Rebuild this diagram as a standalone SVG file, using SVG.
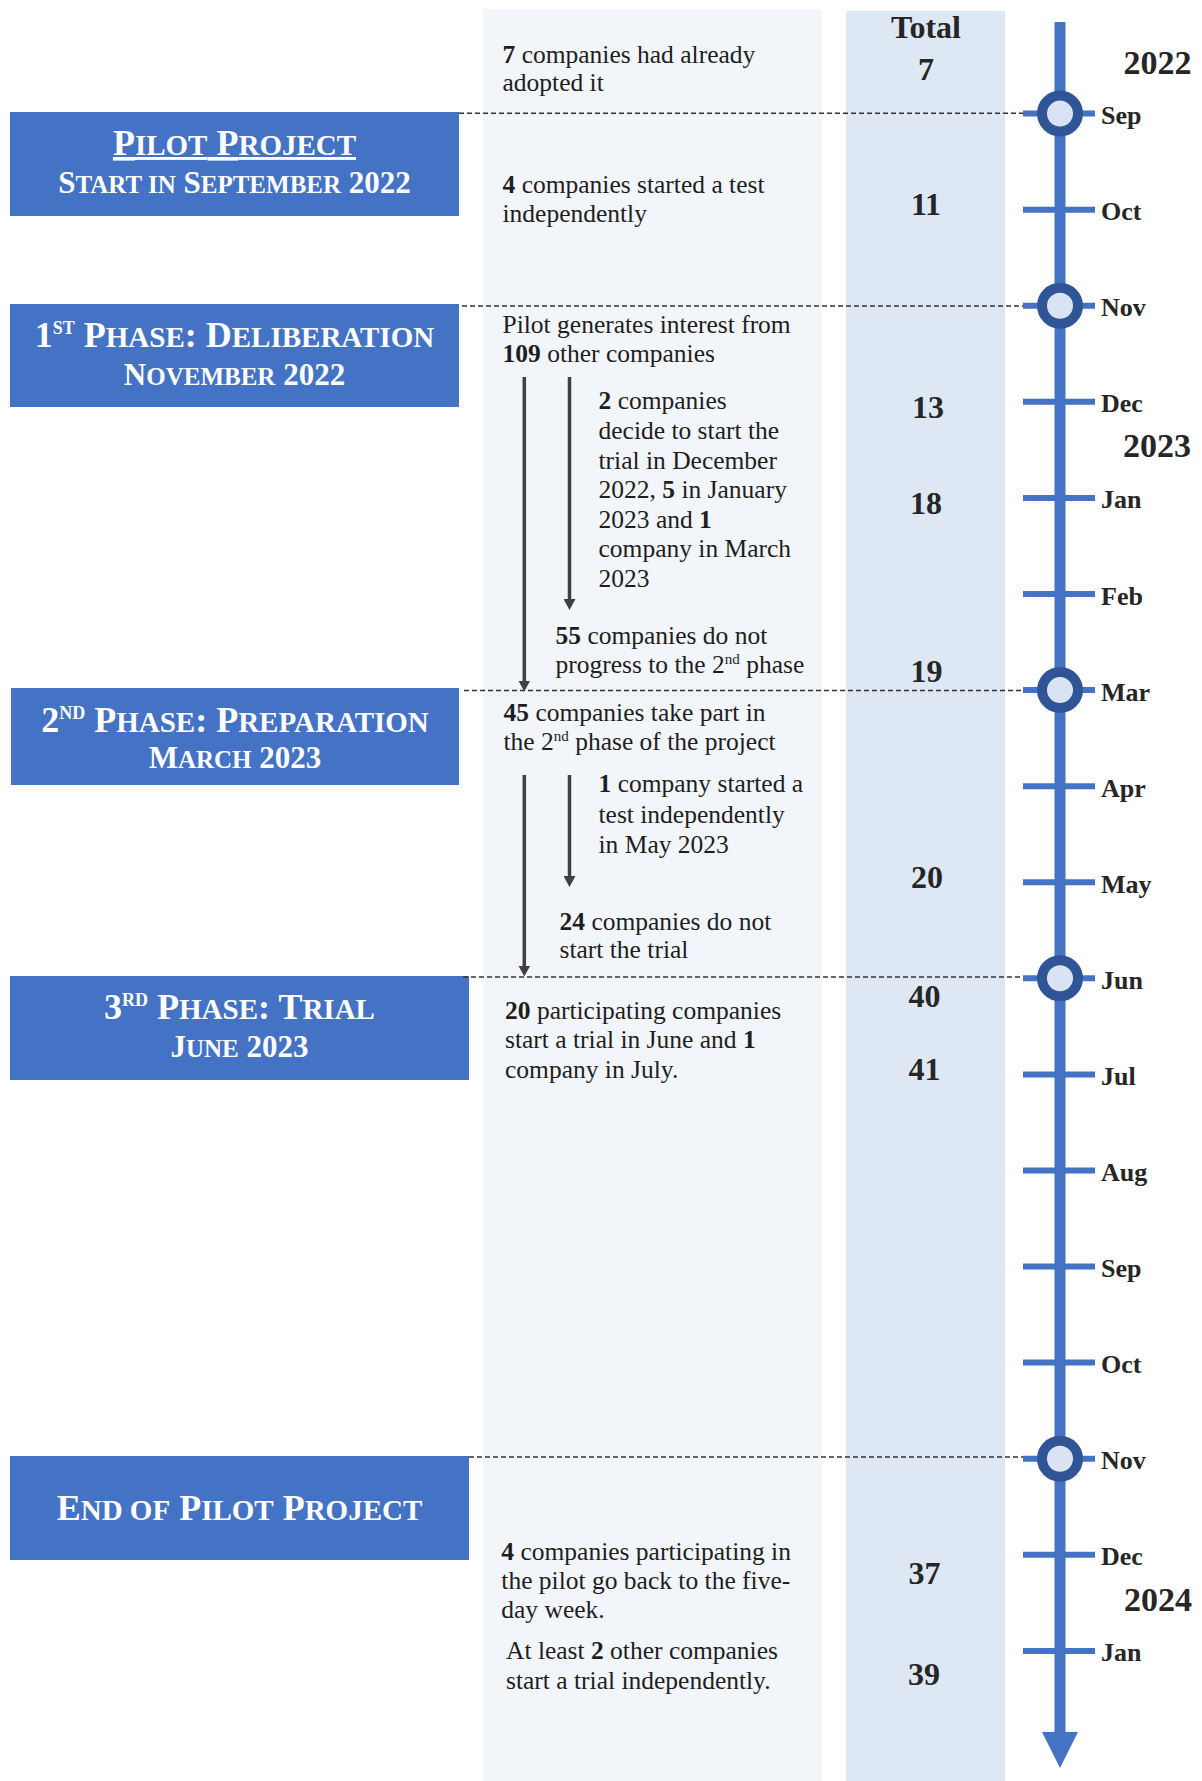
<svg xmlns="http://www.w3.org/2000/svg" width="1202" height="1781" viewBox="0 0 1202 1781">
<defs>
<style>
.bg1{fill:#F2F5FA}
.bg2{fill:#DEE8F4}
.body{font-family:"Liberation Serif","Times New Roman",serif;font-size:25.5px;fill:#1e1e1e}
.b{font-weight:bold}
.box{fill:#4472C4}
.bt{font-family:"Liberation Serif","Times New Roman",serif;font-weight:bold;fill:#ffffff;text-anchor:middle}
.num{font-family:"Liberation Serif","Times New Roman",serif;font-weight:bold;font-size:32px;fill:#262626;text-anchor:middle}
.mon{font-family:"Liberation Serif","Times New Roman",serif;font-weight:bold;font-size:26px;fill:#262626}
.yr{font-family:"Liberation Serif","Times New Roman",serif;font-weight:bold;font-size:34px;fill:#262626}
.dash{stroke:#333333;stroke-width:1.5;stroke-dasharray:5 3;fill:none}
.arr{stroke:#404040;stroke-width:3.5;fill:none;marker-end:url(#ah)}
.tick{stroke:#4472C4;stroke-width:6}
.ring{fill:#DAE3F3;stroke:#2F5597;stroke-width:10}
</style>
<marker id="ah" viewBox="0 0 11 12" markerUnits="userSpaceOnUse" markerWidth="11" markerHeight="12" refX="0.5" refY="6" orient="auto">
<path d="M0,0 L11,6 L0,12 Z" fill="#404040"/>
</marker>
</defs>
<rect width="1202" height="1781" fill="#ffffff"/>

<g id="columns">
<rect class="bg1" x="483" y="9" width="339" height="1772"/>
<rect class="bg2" x="846" y="11" width="159" height="1770"/>
</g>

<g id="timeline">
<line x1="1060" y1="22" x2="1060" y2="1734" stroke="#4472C4" stroke-width="11"/>
<polygon points="1042,1732 1078,1732 1060,1768" fill="#4472C4"/>
<line class="tick" x1="1023" y1="113.6" x2="1095" y2="113.6"/>
<line class="tick" x1="1023" y1="209.7" x2="1095" y2="209.7"/>
<line class="tick" x1="1023" y1="305.8" x2="1095" y2="305.8"/>
<line class="tick" x1="1023" y1="401.8" x2="1095" y2="401.8"/>
<line class="tick" x1="1023" y1="497.9" x2="1095" y2="497.9"/>
<line class="tick" x1="1023" y1="594" x2="1095" y2="594"/>
<line class="tick" x1="1023" y1="690.1" x2="1095" y2="690.1"/>
<line class="tick" x1="1023" y1="786.2" x2="1095" y2="786.2"/>
<line class="tick" x1="1023" y1="882.2" x2="1095" y2="882.2"/>
<line class="tick" x1="1023" y1="978.3" x2="1095" y2="978.3"/>
<line class="tick" x1="1023" y1="1074.4" x2="1095" y2="1074.4"/>
<line class="tick" x1="1023" y1="1170.5" x2="1095" y2="1170.5"/>
<line class="tick" x1="1023" y1="1266.6" x2="1095" y2="1266.6"/>
<line class="tick" x1="1023" y1="1362.6" x2="1095" y2="1362.6"/>
<line class="tick" x1="1023" y1="1458.7" x2="1095" y2="1458.7"/>
<line class="tick" x1="1023" y1="1554.8" x2="1095" y2="1554.8"/>
<line class="tick" x1="1023" y1="1650.9" x2="1095" y2="1650.9"/>
<circle class="ring" cx="1060" cy="113.6" r="18"/>
<circle class="ring" cx="1060" cy="305.8" r="18"/>
<circle class="ring" cx="1060" cy="690.1" r="18"/>
<circle class="ring" cx="1060" cy="978.3" r="18"/>
<circle class="ring" cx="1060" cy="1458.7" r="18"/>
<text class="mon" x="1101" y="124">Sep</text>
<text class="mon" x="1101" y="220.2">Oct</text>
<text class="mon" x="1101" y="316.3">Nov</text>
<text class="mon" x="1101" y="412.3">Dec</text>
<text class="mon" x="1101" y="508.4">Jan</text>
<text class="mon" x="1101" y="604.5">Feb</text>
<text class="mon" x="1101" y="700.6">Mar</text>
<text class="mon" x="1101" y="796.7">Apr</text>
<text class="mon" x="1101" y="892.7">May</text>
<text class="mon" x="1101" y="988.8">Jun</text>
<text class="mon" x="1101" y="1084.9">Jul</text>
<text class="mon" x="1101" y="1181">Aug</text>
<text class="mon" x="1101" y="1277.1">Sep</text>
<text class="mon" x="1101" y="1373.1">Oct</text>
<text class="mon" x="1101" y="1469.2">Nov</text>
<text class="mon" x="1101" y="1565.3">Dec</text>
<text class="mon" x="1101" y="1661.4">Jan</text>
<text class="yr" x="1123.5" y="74">2022</text>
<text class="yr" x="1123" y="457">2023</text>
<text class="yr" x="1124" y="1611">2024</text>
</g>

<g id="totals">
<text class="num" x="926" y="38" font-size="28">Total</text>
<text class="num" x="926" y="80">7</text>
<text class="num" x="926" y="215">11</text>
<text class="num" x="928" y="418">13</text>
<text class="num" x="926" y="514">18</text>
<text class="num" x="926.4" y="682">19</text>
<text class="num" x="927" y="888">20</text>
<text class="num" x="924.5" y="1007">40</text>
<text class="num" x="924.5" y="1080">41</text>
<text class="num" x="924.5" y="1584">37</text>
<text class="num" x="924" y="1685">39</text>
</g>

<g id="pilot-project">
<rect class="box" x="10" y="112" width="449" height="104"/>
<text class="bt" x="234.5" y="155" font-size="36" text-decoration="underline">P<tspan font-size="29">ILOT</tspan> P<tspan font-size="29">ROJECT</tspan></text>
<text class="bt" x="234.5" y="192.7" font-size="31">S<tspan font-size="25">TART IN</tspan> S<tspan font-size="25">EPTEMBER</tspan> 2022</text>
</g>

<g id="phase-1">
<rect class="box" x="10" y="304" width="449" height="103"/>
<text class="bt" x="234.5" y="346.7" font-size="36">1<tspan font-size="18" dy="-13">ST</tspan><tspan dy="13"> P</tspan><tspan font-size="29">HASE</tspan>: D<tspan font-size="29">ELIBERATION</tspan></text>
<text class="bt" x="234.5" y="385" font-size="31">N<tspan font-size="25">OVEMBER</tspan> 2022</text>
</g>

<g id="phase-2">
<rect class="box" x="11" y="688" width="448" height="97"/>
<text class="bt" x="235" y="731.7" font-size="36">2<tspan font-size="18" dy="-13">ND</tspan><tspan dy="13"> P</tspan><tspan font-size="29">HASE</tspan>: P<tspan font-size="29">REPARATION</tspan></text>
<text class="bt" x="235" y="768" font-size="31">M<tspan font-size="25">ARCH</tspan> 2023</text>
</g>

<g id="phase-3">
<rect class="box" x="10" y="976" width="459" height="104"/>
<text class="bt" x="239.5" y="1019" font-size="36">3<tspan font-size="18" dy="-13">RD</tspan><tspan dy="13"> P</tspan><tspan font-size="29">HASE</tspan>: T<tspan font-size="29">RIAL</tspan></text>
<text class="bt" x="239.5" y="1056.7" font-size="31">J<tspan font-size="25">UNE</tspan> 2023</text>
</g>

<g id="end-of-pilot">
<rect class="box" x="10" y="1456" width="459" height="104"/>
<text class="bt" x="239.5" y="1520" font-size="36">E<tspan font-size="29">ND OF</tspan> P<tspan font-size="29">ILOT</tspan> P<tspan font-size="29">ROJECT</tspan></text>
</g>

<g id="notes">
<text class="body" x="502.5" y="62.7"><tspan class="b">7</tspan> companies had already</text>
<text class="body" x="502.5" y="90.7">adopted it</text>
<text class="body" x="502.5" y="193"><tspan class="b">4</tspan> companies started a test</text>
<text class="body" x="502.5" y="222">independently</text>
<text class="body" x="502.5" y="332.7">Pilot generates interest from</text>
<text class="body" x="502.5" y="361.7"><tspan class="b">109</tspan> other companies</text>
<text class="body" x="598.5" y="409.3"><tspan class="b">2</tspan> companies</text>
<text class="body" x="598.5" y="439">decide to start the</text>
<text class="body" x="598.5" y="468.5">trial in December</text>
<text class="body" x="598.5" y="498.3">2022, <tspan class="b">5</tspan> in January</text>
<text class="body" x="598.5" y="527.7">2023 and <tspan class="b">1</tspan></text>
<text class="body" x="598.5" y="557.3">company in March</text>
<text class="body" x="598.5" y="587.3">2023</text>
<text class="body" x="555.5" y="644"><tspan class="b">55</tspan> companies do not</text>
<text class="body" x="555.5" y="673.3">progress to the 2<tspan font-size="15" dy="-9">nd</tspan><tspan dy="9"> phase</tspan></text>
<text class="body" x="503.5" y="720.7"><tspan class="b">45</tspan> companies take part in</text>
<text class="body" x="503.5" y="750">the 2<tspan font-size="15" dy="-9">nd</tspan><tspan dy="9"> phase of the project</tspan></text>
<text class="body" x="598.5" y="791.7"><tspan class="b">1</tspan> company started a</text>
<text class="body" x="598.5" y="823">test independently</text>
<text class="body" x="598.5" y="852.7">in May 2023</text>
<text class="body" x="559.5" y="930"><tspan class="b">24</tspan> companies do not</text>
<text class="body" x="559.5" y="958.3">start the trial</text>
<text class="body" x="505" y="1019.3"><tspan class="b">20</tspan> participating companies</text>
<text class="body" x="505" y="1048.3">start a trial in June and <tspan class="b">1</tspan></text>
<text class="body" x="505" y="1077.7">company in July.</text>
<text class="body" x="501.3" y="1560"><tspan class="b">4</tspan> companies participating in</text>
<text class="body" x="501.3" y="1589.3">the pilot go back to the five-</text>
<text class="body" x="501.3" y="1618.3">day week.</text>
<text class="body" x="506" y="1659.3">At least <tspan class="b">2</tspan> other companies</text>
<text class="body" x="506" y="1688.7">start a trial independently.</text>
</g>

<g id="connectors">
<line class="dash" x1="459" y1="113.3" x2="1023" y2="113.3"/>
<line class="dash" x1="462" y1="306" x2="1023" y2="306"/>
<line class="dash" x1="464" y1="690.5" x2="1023" y2="690.5"/>
<line class="dash" x1="463" y1="977" x2="1023" y2="977"/>
<line class="dash" x1="469" y1="1457" x2="1023" y2="1457"/>
<line class="arr" x1="524.3" y1="377" x2="524.3" y2="681"/>
<line class="arr" x1="569.5" y1="377" x2="569.5" y2="599.5"/>
<line class="arr" x1="524.3" y1="775" x2="524.3" y2="966"/>
<line class="arr" x1="569.5" y1="775" x2="569.5" y2="876.5"/>
</g>
</svg>
